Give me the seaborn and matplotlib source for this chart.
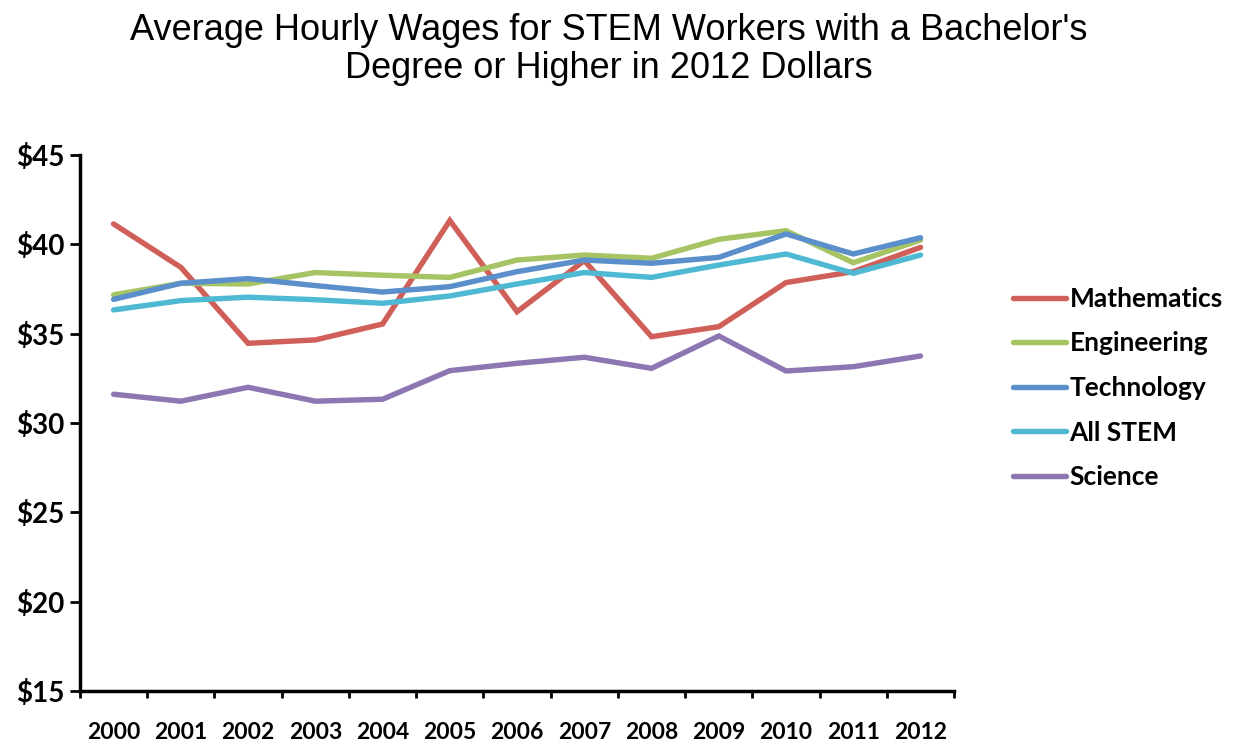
import matplotlib
matplotlib.use("Agg")
import matplotlib.pyplot as plt
import seaborn as sns
import pandas as pd
import numpy as np
from matplotlib.ticker import FixedLocator, FuncFormatter

years = ["2000", "2001", "2002", "2003", "2004", "2005", "2006",
         "2007", "2008", "2009", "2010", "2011", "2012"]

mathematics = [41.14, 38.71, 34.46, 34.65, 35.54, 41.33, 36.23,
               39.09, 34.83, 35.39, 37.86, 38.47, 39.83]
engineering = [37.17, 37.82, 37.78, 38.42, 38.27, 38.15, 39.12,
               39.40, 39.22, 40.28, 40.76, 38.97, 40.24]
technology = [36.92, 37.82, 38.08, 37.69, 37.33, 37.63, 38.47,
              39.12, 38.94, 39.27, 40.58, 39.46, 40.37]
all_stem = [36.33, 36.85, 37.04, 36.90, 36.70, 37.11, 37.78,
            38.42, 38.15, 38.84, 39.46, 38.38, 39.40]
science = [31.61, 31.22, 32.00, 31.22, 31.33, 32.93, 33.34,
           33.68, 33.06, 34.87, 32.91, 33.15, 33.75]

series_names = ["Mathematics", "Engineering", "Technology", "All STEM", "Science"]
series_values = [mathematics, engineering, technology, all_stem, science]
colors = ["#CF5F58", "#A6C463", "#5B8FCB", "#4FB9D3", "#8D77B3"]

y_ticks = [15, 20, 25, 30, 35, 40, 45]

rows = []
for name, vals in zip(series_names, series_values):
    for i, v in enumerate(vals):
        rows.append({"pos": i, "year": years[i], "series": name, "wage": v})
df = pd.DataFrame(rows)

sns.set_theme(style="white")
plt.rcParams["font.family"] = ["Lato", "DejaVu Sans"]
plt.rcParams["text.color"] = "black"

fig = plt.figure(figsize=(12.44, 7.44), dpi=100)
ax = fig.add_axes([0.0643, 0.0712, 0.7027, 0.7205])

sns.lineplot(data=df, x="pos", y="wage", hue="series", hue_order=series_names,
             palette=colors, linewidth=3.9, ax=ax, legend=False,
             solid_capstyle="round", solid_joinstyle="miter")

ax.set_xlim(-0.5, len(years) - 0.5)
ax.set_ylim(15, 45)

ax.set_yticks(y_ticks)
ax.yaxis.set_major_formatter(FuncFormatter(lambda v, p: f"${int(v)}"))

ax.set_xticks(range(len(years)))
ax.set_xticklabels(years)
ax.xaxis.set_minor_locator(FixedLocator(np.arange(-0.5, len(years), 1.0)))

ax.tick_params(axis="x", which="major", length=0, pad=22, labelsize=16.5,
               labelcolor="black")
ax.tick_params(axis="x", which="minor", length=5, width=2, color="black",
               direction="out", bottom=True)
ax.tick_params(axis="y", which="major", length=7, width=2, color="black",
               direction="out", left=True, pad=4, labelsize=20,
               labelcolor="black")
for lbl in ax.get_xticklabels() + ax.get_yticklabels():
    lbl.set_fontweight("bold")

for side in ["top", "right"]:
    ax.spines[side].set_visible(False)
for side in ["left", "bottom"]:
    ax.spines[side].set_color("black")
    ax.spines[side].set_linewidth(2.5)

ax.set_xlabel("")
ax.set_ylabel("")
ax.grid(False)

handles = [plt.Line2D([0], [0], color=c, lw=3.9, solid_capstyle="round")
           for c in colors]
leg = fig.legend(handles, series_names, loc="center left",
                 bbox_to_anchor=(0.795, 0.4785), frameon=False,
                 handlelength=2.0, handletextpad=0.15, labelspacing=0.78,
                 prop={"family": ["Lato", "DejaVu Sans"], "size": 19,
                       "weight": "bold"})
for t in leg.get_texts():
    t.set_color("black")

fig.text(0.489, 0.982, "Average Hourly Wages for STEM Workers with a Bachelor's\n"
         "Degree or Higher in 2012 Dollars", ha="center", va="top",
         fontsize=26, color="black", family=["Liberation Sans", "DejaVu Sans"],
         linespacing=1.1)

fig.savefig("out.png", dpi=100, facecolor="white")
